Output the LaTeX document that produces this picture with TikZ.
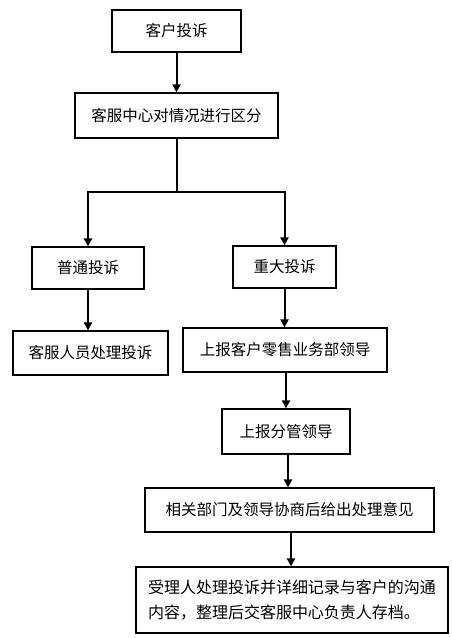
\documentclass[tikz,border=0pt]{standalone}
\usepackage{fontspec}
\newfontfamily\cjk{Noto Sans CJK SC}
\usepackage{tikz}
\usetikzlibrary{arrows.meta,positioning}

\begin{document}
\begin{tikzpicture}[
    x=1pt, y=-1pt,
    box/.style={rectangle, draw, line width=1.2pt, inner sep=0pt, align=center,
        font=\cjk\fontsize{15.5}{25}\selectfont},
    arrow/.style={-{Triangle[length=8pt,width=8pt]}, line width=2pt}
]
    \useasboundingbox (0,0) rectangle (452,638);
    \node[box, minimum width=129pt, minimum height=42pt] (complaint) at (176.5,31) {客户投诉};
    \node[box, minimum width=203pt, minimum height=45pt] (sort) at (176.5,115.5) {客服中心对情况进行区分};
    \node[box, minimum width=112pt, minimum height=42pt] (normal) at (88,268) {普通投诉};
    \node[box, minimum width=103pt, minimum height=42pt] (major) at (284.5,267) {重大投诉};
    \node[box, minimum width=155pt, minimum height=44pt] (staff) at (90.5,353) {客服人员处理投诉};
    \node[box, minimum width=204pt, minimum height=44pt] (retail) at (285,350) {上报客户零售业务部领导};
    \node[box, minimum width=128pt, minimum height=45pt] (manager) at (286,431.5) {上报分管领导};
    \node[box, minimum width=289pt, minimum height=44pt] (consult) at (289.5,510) {相关部门及领导协商后给出处理意见};
    \node[box, text width=288pt, inner xsep=12pt, minimum height=66pt, align=left,
        font=\cjk\fontsize{16}{25}\selectfont] (archive) at (292,600)
        {受理人处理投诉并详细记录与客户的沟通\\内容，整理后交客服中心负责人存档。};
    \coordinate (fork) at (177,192);

    \draw[arrow] (complaint) -- (sort);
    \draw[line width=2pt] (sort.south -| fork) -- (fork);
    \draw[arrow] (fork) -| (normal.north);
    \draw[arrow] (fork) -| (major.north);
    \draw[arrow] (normal.south) -- (normal.south |- staff.north);
    \draw[arrow] (major.south) -- (major.south |- retail.north);
    \draw[arrow] (retail.south -| manager) -- (manager.north);
    \draw[arrow] (manager.south -| 288,0) -- (consult.north -| 288,0);
    \draw[arrow] (consult.south -| 291,0) -- (archive.north -| 291,0);
\end{tikzpicture}
\end{document}
